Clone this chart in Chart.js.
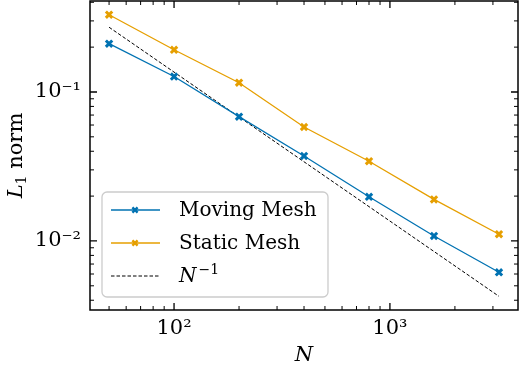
<!DOCTYPE html>
<html>
<head>
<meta charset="utf-8">
<script src="https://cdn.jsdelivr.net/npm/chart.js@4"></script>
<style>
  html, body { margin: 0; padding: 0; background: #fff; }
  #wrap { width: 520px; height: 366px; }
</style>
</head>
<body>
<div id="wrap"><canvas id="convergence"></canvas></div>
<script>
// resolution and L1 errors
const nValues = [50, 100, 200, 400, 800, 1600, 3200];
const movingMesh = [0.211, 0.127, 0.0683, 0.0372, 0.0198, 0.0108, 0.00616];
const staticMesh = [0.330, 0.192, 0.1154, 0.0582, 0.0343, 0.0190, 0.0111];
const refN = [50, 3200];
const refErr = [0.272, 0.00425];

const xMajor = [100, 1000];
const xLabels = ['10²', '10³'];
const xMinor = [50, 60, 70, 80, 90, 200, 300, 400, 500, 600, 700, 800, 900, 2000, 3000];
const yMajor = [0.01, 0.1];
const yLabels = ['10⁻²', '10⁻¹'];
const yMinor = [0.004, 0.005, 0.006, 0.007, 0.008, 0.009, 0.02, 0.03, 0.04, 0.05, 0.06, 0.07, 0.08, 0.09, 0.2, 0.3, 0.4];

const FONT = '"DejaVu Serif", serif';
const BLUE = '#0072B2';
const ORANGE = '#E69F00';

const pts = (xs, ys) => xs.map((x, i) => ({x: x, y: ys[i]}));

function buildTicks(major, minor) {
  return function (scale) {
    const t = major.map(v => ({value: v, major: true}))
      .concat(minor.map(v => ({value: v, major: false})));
    t.sort((a, b) => a.value - b.value);
    scale.ticks = t;
  };
}
function labelFor(major, labels) {
  return function (value) {
    const i = major.findIndex(m => Math.abs(m - value) / m < 1e-6);
    return i >= 0 ? labels[i] : '';
  };
}

// inward ticks on all four sides plus full frame (matplotlib style)
const frameTicks = {
  id: 'frameTicks',
  afterDatasetsDraw(chart) {
    const ctx = chart.ctx, a = chart.chartArea;
    const x = chart.scales.x, y = chart.scales.y;
    ctx.save();
    ctx.strokeStyle = '#000';
    x.ticks.forEach(t => {
      const px = x.getPixelForValue(t.value);
      if (px < a.left || px > a.right) return;
      const len = t.major ? 7 : 4;
      ctx.lineWidth = t.major ? 1.3 : 1;
      ctx.beginPath();
      ctx.moveTo(px, a.bottom); ctx.lineTo(px, a.bottom - len);
      ctx.moveTo(px, a.top); ctx.lineTo(px, a.top + len);
      ctx.stroke();
    });
    y.ticks.forEach(t => {
      const py = y.getPixelForValue(t.value);
      if (py < a.top || py > a.bottom) return;
      const len = t.major ? 7 : 4;
      ctx.lineWidth = t.major ? 1.3 : 1;
      ctx.beginPath();
      ctx.moveTo(a.left, py); ctx.lineTo(a.left + len, py);
      ctx.moveTo(a.right, py); ctx.lineTo(a.right - len, py);
      ctx.stroke();
    });
    ctx.lineWidth = 1.5;
    ctx.strokeRect(a.left, a.top, a.right - a.left, a.bottom - a.top);
    ctx.restore();
  }
};

// axis titles with italic symbols
const axisTitles = {
  id: 'axisTitles',
  afterDraw(chart) {
    const ctx = chart.ctx, a = chart.chartArea;
    ctx.save();
    ctx.fillStyle = '#000';
    ctx.textBaseline = 'alphabetic';
    // x title
    ctx.font = 'italic 21px ' + FONT;
    ctx.textAlign = 'center';
    ctx.fillText('N', (a.left + a.right) / 2, 361);
    // y title, rotated
    ctx.translate(22, (a.top + a.bottom) / 2);
    ctx.rotate(-Math.PI / 2);
    ctx.textAlign = 'left';
    ctx.font = 'italic 21px ' + FONT;
    const wL = ctx.measureText('L').width;
    ctx.font = '14px ' + FONT;
    const w1 = ctx.measureText('1').width;
    ctx.font = '21px ' + FONT;
    const wn = ctx.measureText(' norm').width;
    let x0 = -(wL + w1 + wn) / 2;
    ctx.font = 'italic 21px ' + FONT;
    ctx.fillText('L', x0, 0);
    ctx.font = '14px ' + FONT;
    ctx.fillText('1', x0 + wL, 4);
    ctx.font = '21px ' + FONT;
    ctx.fillText(' norm', x0 + wL + w1, 0);
    ctx.restore();
  }
};

// legend box in the lower left of the axes
const boxLegend = {
  id: 'boxLegend',
  afterDraw(chart) {
    const ctx = chart.ctx;
    const bx = 102, by = 192, bw = 226, bh = 105, r = 5;
    ctx.save();
    ctx.beginPath();
    ctx.roundRect(bx, by, bw, bh, r);
    ctx.fillStyle = 'rgba(255,255,255,0.8)';
    ctx.fill();
    ctx.lineWidth = 1.3;
    ctx.strokeStyle = '#cccccc';
    ctx.stroke();
    const rows = [210, 243, 276];
    chart.data.datasets.forEach((ds, i) => {
      const yy = rows[i];
      ctx.strokeStyle = ds.borderColor;
      ctx.lineWidth = ds.borderWidth;
      ctx.setLineDash(ds.borderDash || []);
      ctx.beginPath();
      ctx.moveTo(111, yy); ctx.lineTo(160, yy);
      ctx.stroke();
      ctx.setLineDash([]);
      if (ds.pointRadius > 0) {
        ctx.lineWidth = 2.4;
        const s = 2.6;
        ctx.beginPath();
        ctx.moveTo(135 - s, yy - s); ctx.lineTo(135 + s, yy + s);
        ctx.moveTo(135 - s, yy + s); ctx.lineTo(135 + s, yy - s);
        ctx.stroke();
      }
      ctx.fillStyle = '#000';
      ctx.textBaseline = 'middle';
      ctx.textAlign = 'left';
      const parts = ds.label.split('^');
      if (parts.length === 2) {
        ctx.font = 'italic 20px ' + FONT;
        ctx.fillText(parts[0], 179, yy + 1);
        const w = ctx.measureText(parts[0]).width;
        ctx.font = '14px ' + FONT;
        ctx.fillText(parts[1].replace('-', '\u2212'), 181 + w, yy - 6);
      } else {
        ctx.font = '20px ' + FONT;
        ctx.fillText(ds.label, 179, yy + 1);
      }
    });
    ctx.restore();
  }
};

const ctx = document.getElementById('convergence').getContext('2d');
const convergenceChart = new Chart(ctx, {
  type: 'line',
  plugins: [frameTicks, axisTitles, boxLegend],
  data: {
    datasets: [{
      label: 'Moving Mesh',
      data: pts(nValues, movingMesh),
      borderColor: BLUE,
      backgroundColor: BLUE,
      borderWidth: 1.3,
      pointStyle: 'crossRot',
      pointRadius: 4.5,
      pointBorderWidth: 3
    }, {
      label: 'Static Mesh',
      data: pts(nValues, staticMesh),
      borderColor: ORANGE,
      backgroundColor: ORANGE,
      borderWidth: 1.3,
      pointStyle: 'crossRot',
      pointRadius: 4.5,
      pointBorderWidth: 3
    }, {
      label: 'N^-1',
      data: pts(refN, refErr),
      borderColor: '#000',
      borderWidth: 1,
      borderDash: [3.5, 2],
      pointRadius: 0
    }]
  },
  options: {
    responsive: true,
    maintainAspectRatio: false,
    animation: false,
    layout: { autoPadding: false, padding: { top: 1, right: 2, left: 0, bottom: 0 } },
    plugins: {
      legend: { display: false },
      tooltip: { enabled: false }
    },
    scales: {
      x: {
        type: 'logarithmic',
        min: 40.8,
        max: 3920,
        afterBuildTicks: buildTicks(xMajor, xMinor),
        afterFit: s => { s.height = 56; s.paddingLeft = 0; s.paddingRight = 0; },
        grid: { display: false, drawTicks: false },
        border: { display: false },
        ticks: {
          autoSkip: false,
          maxRotation: 0,
          padding: 6,
          color: '#000',
          font: { family: FONT, size: 21 },
          callback: labelFor(xMajor, xLabels)
        }
      },
      y: {
        type: 'logarithmic',
        min: 0.00344,
        max: 0.408,
        afterBuildTicks: buildTicks(yMajor, yMinor),
        afterFit: s => { s.width = 90; s.paddingTop = 0; s.paddingBottom = 0; },
        grid: { display: false, drawTicks: false },
        border: { display: false },
        ticks: {
          autoSkip: false,
          padding: 9,
          color: '#000',
          font: { family: FONT, size: 21 },
          callback: labelFor(yMajor, yLabels)
        }
      }
    }
  }
});
</script>
</body>
</html>
